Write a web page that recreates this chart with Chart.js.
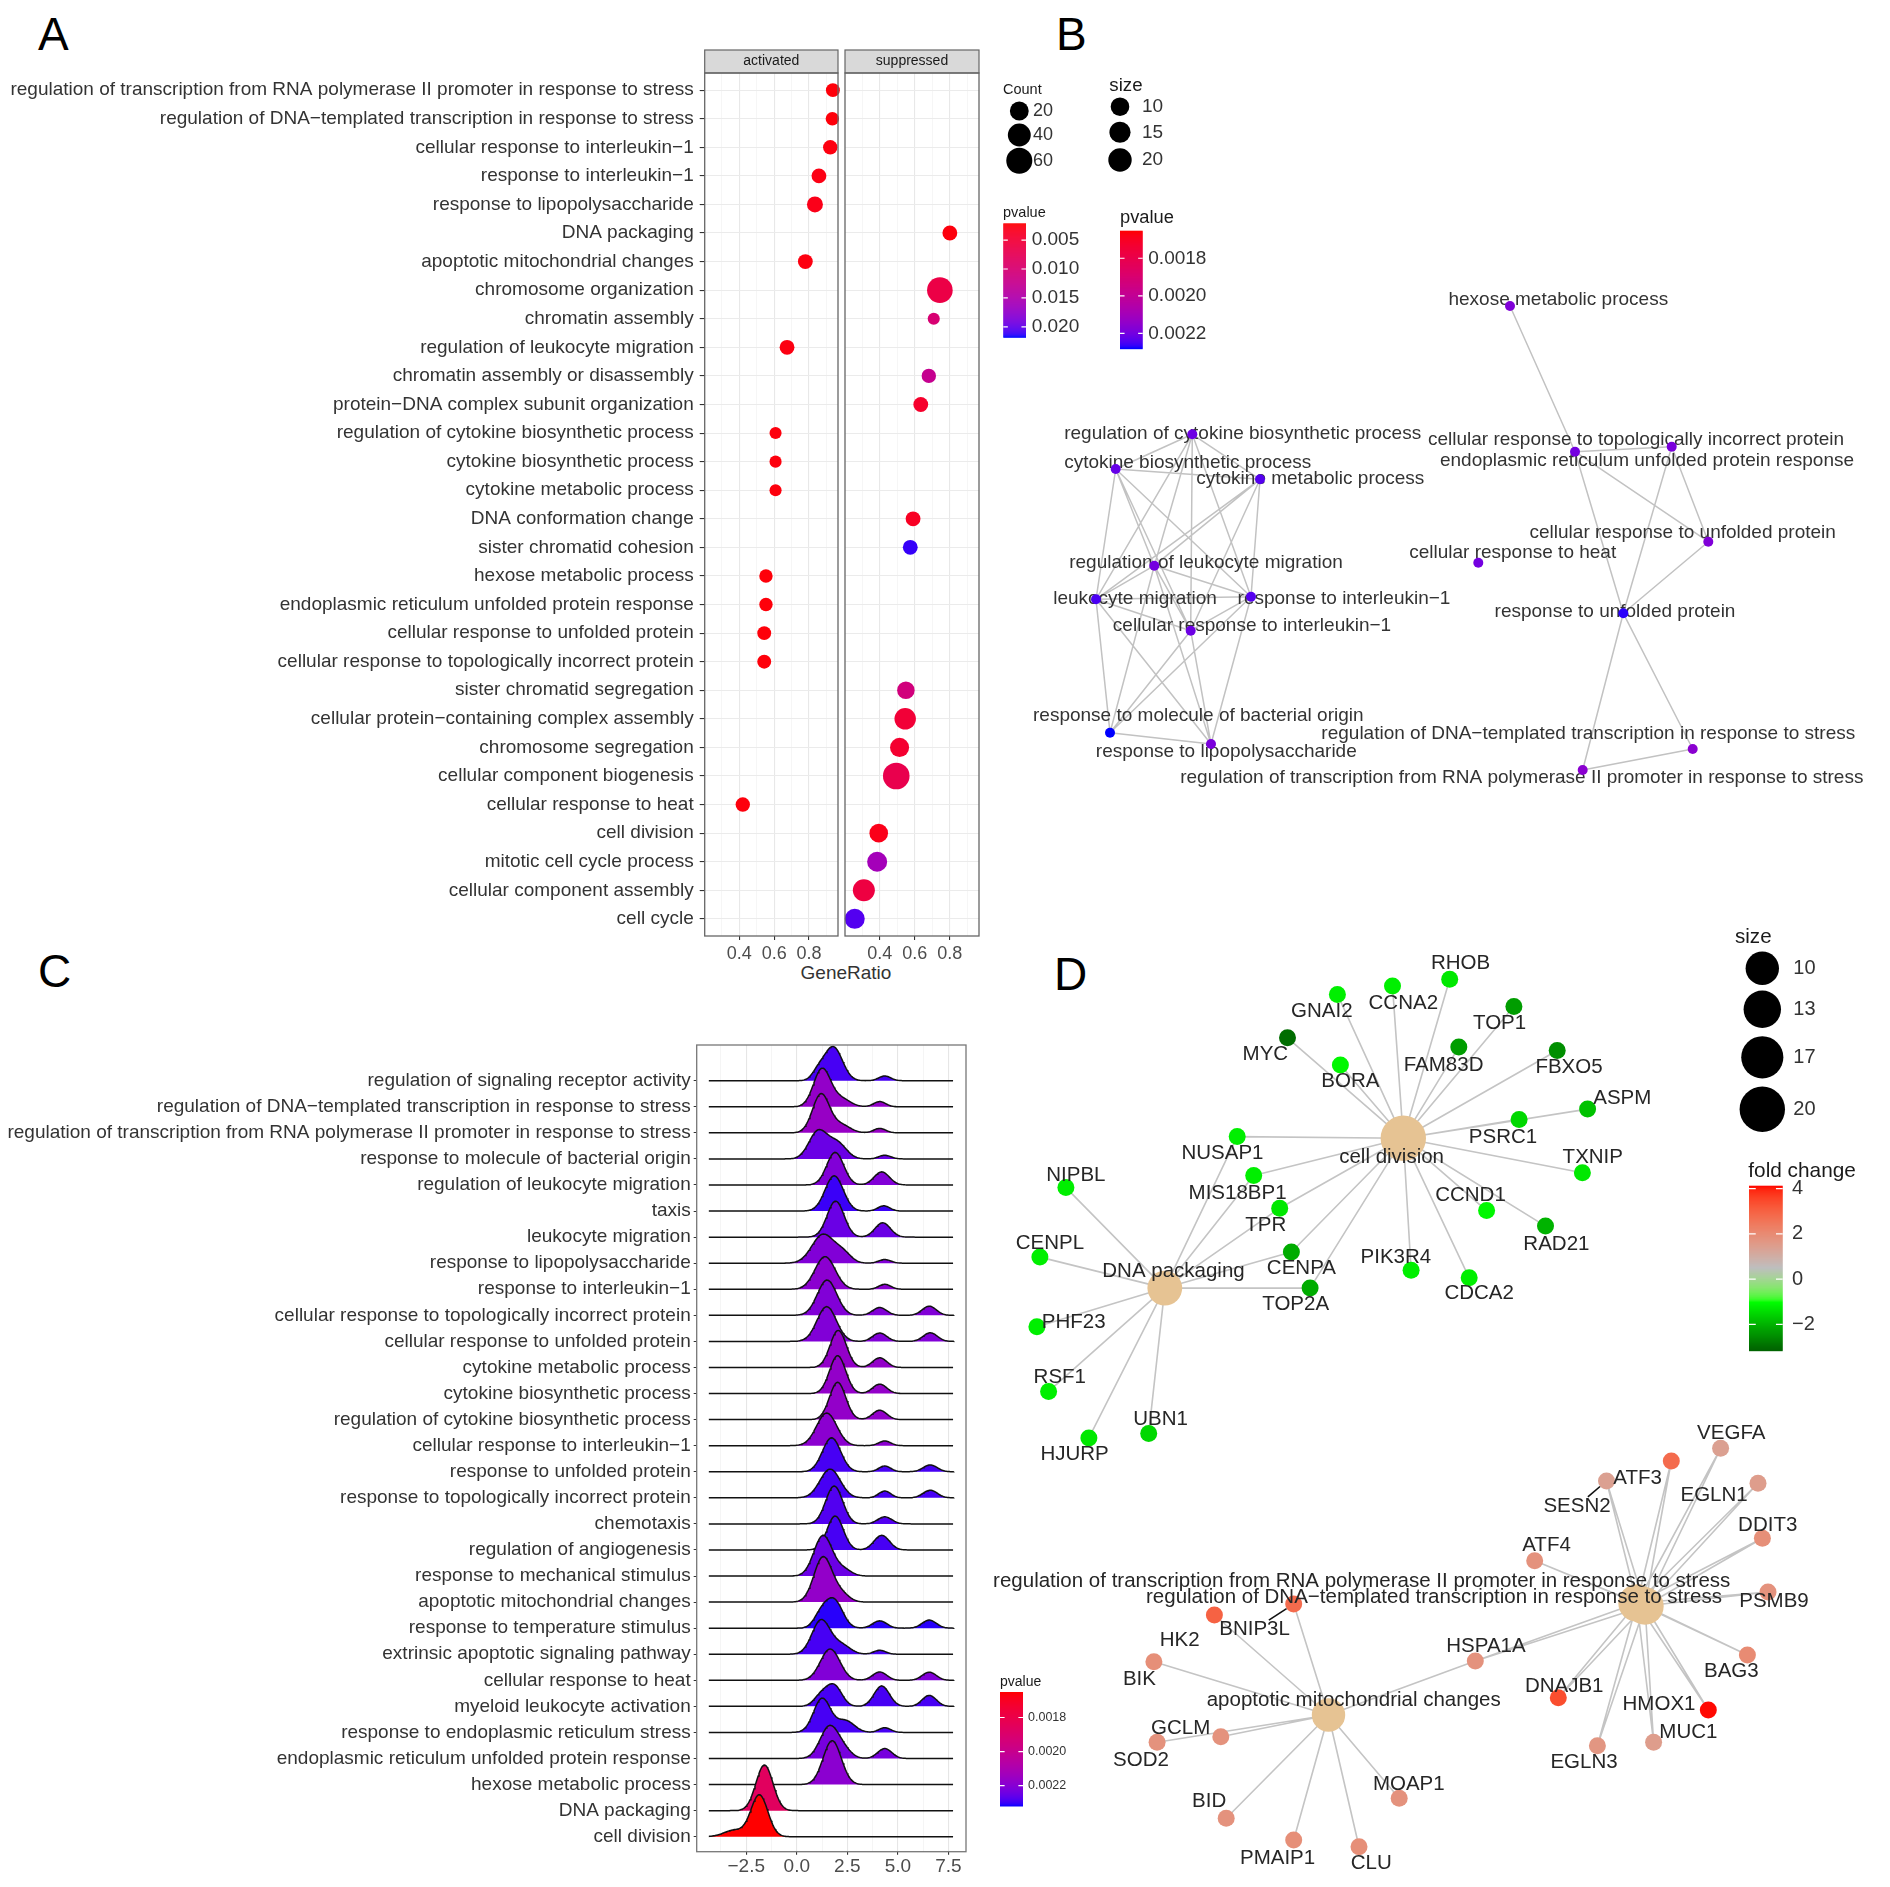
<!DOCTYPE html>
<html>
<head>
<meta charset="utf-8">
<script src="https://cdn.jsdelivr.net/npm/chart.js@4.4.1/dist/chart.umd.min.js"></script>
<style>
  body { margin: 0; background: #fff; width: 1890px; height: 1887px; position: relative; overflow: hidden;
         font-family: "Liberation Sans", Arial, Helvetica, sans-serif; }
  canvas { position: absolute; }
  .tag { position: absolute; font-size: 46px; line-height: 46px; color: #000; }
  .title { position: absolute; font-size: 19px; line-height: 19px; color: #333; transform: translate(-50%, -50%); }
</style>
</head>
<body>
<div class="tag" style="left:38px;top:11px">A</div>
<div class="tag" style="left:1056px;top:11px">B</div>
<div class="tag" style="left:38px;top:948px">C</div>
<div class="tag" style="left:1054px;top:951px">D</div>
<div class="title" style="left:846px;top:972px">GeneRatio</div>

<canvas id="a1" width="845" height="950" style="left:0;top:40px"></canvas>
<canvas id="a2" width="270" height="950" style="left:840px;top:40px"></canvas>
<canvas id="b" width="860" height="740" style="left:1030px;top:60px"></canvas>
<canvas id="c" width="1100" height="857" style="left:0;top:1030px"></canvas>
<canvas id="d" width="930" height="967" style="left:960px;top:920px"></canvas>

<script>
// ---------- panel A: dot plot, two facets ----------
const aTerms = [
  'regulation of transcription from RNA polymerase II promoter in response to stress',
  'regulation of DNA−templated transcription in response to stress',
  'cellular response to interleukin−1',
  'response to interleukin−1',
  'response to lipopolysaccharide',
  'DNA packaging',
  'apoptotic mitochondrial changes',
  'chromosome organization',
  'chromatin assembly',
  'regulation of leukocyte migration',
  'chromatin assembly or disassembly',
  'protein−DNA complex subunit organization',
  'regulation of cytokine biosynthetic process',
  'cytokine biosynthetic process',
  'cytokine metabolic process',
  'DNA conformation change',
  'sister chromatid cohesion',
  'hexose metabolic process',
  'endoplasmic reticulum unfolded protein response',
  'cellular response to unfolded protein',
  'cellular response to topologically incorrect protein',
  'sister chromatid segregation',
  'cellular protein−containing complex assembly',
  'chromosome segregation',
  'cellular component biogenesis',
  'cellular response to heat',
  'cell division',
  'mitotic cell cycle process',
  'cellular component assembly',
  'cell cycle'
];
const aGroup = ['activated','activated','activated','activated','activated','suppressed','activated','suppressed',
  'suppressed','activated','suppressed','suppressed','activated','activated','activated','suppressed','suppressed',
  'activated','activated','activated','activated','suppressed','suppressed','suppressed','suppressed','activated',
  'suppressed','suppressed','suppressed','suppressed'];
const aRatio = [0.937, 0.934, 0.922, 0.857, 0.834, 0.800, 0.779, 0.743, 0.708, 0.674, 0.680, 0.634, 0.608, 0.608,
  0.608, 0.590, 0.574, 0.553, 0.553, 0.543, 0.543, 0.549, 0.545, 0.513, 0.494, 0.420, 0.394, 0.385, 0.309, 0.257];
const aCount = [5, 4, 6, 7, 10, 7, 7, 57, 2, 7, 6, 7, 2, 2, 2, 7, 7, 4, 4, 5, 5, 15, 32, 21, 64, 6, 19, 25, 35, 25];
const aP = [0.0024, 0.0024, 0.0026, 0.0028, 0.0030, 0.0025, 0.0026, 0.0062, 0.0100, 0.0027, 0.0125, 0.0042, 0.0025,
  0.0025, 0.0025, 0.0036, 0.0212, 0.0024, 0.0024, 0.0024, 0.0024, 0.0108, 0.0050, 0.0045, 0.0068, 0.0025, 0.0030,
  0.0160, 0.0058, 0.0205];
const aRatioTicks = [0.3, 0.4, 0.5, 0.6, 0.7, 0.8, 0.9];
const aCountBreaks = [20, 40, 60];
const aPBreaks = [0.005, 0.010, 0.015, 0.020];

// ---------- panel B: enrichment map ----------
const bTerms = [
  'regulation of cytokine biosynthetic process', 'cytokine biosynthetic process', 'cytokine metabolic process',
  'regulation of leukocyte migration', 'leukocyte migration', 'response to interleukin−1',
  'cellular response to interleukin−1', 'response to molecule of bacterial origin', 'response to lipopolysaccharide',
  'hexose metabolic process', 'cellular response to topologically incorrect protein',
  'endoplasmic reticulum unfolded protein response', 'cellular response to unfolded protein',
  'cellular response to heat', 'response to unfolded protein',
  'regulation of DNA−templated transcription in response to stress',
  'regulation of transcription from RNA polymerase II promoter in response to stress'
];
const bNodeX = [16.23, 8.57, 23.0, 12.43, 6.6, 22.1, 16.07, 8.0, 18.1, 48.0, 54.5, 64.17, 67.83, 44.83, 59.33, 66.27, 55.27];
const bNodeY = [37.43, 40.9, 41.93, 50.57, 53.93, 53.67, 57.07, 67.27, 68.4, 24.6, 39.17, 38.67, 48.17, 50.27, 55.33, 68.9, 71.0];
const bLabelX = [21.27, 15.77, 28.03, 17.6, 10.5, 31.4, 22.2, 16.83, 19.63, 52.83, 60.6, 61.7, 65.27, 48.27, 58.5, 55.83, 49.18];
const bLabelY = [37.33, 40.27, 41.9, 50.27, 53.83, 53.83, 56.6, 65.6, 69.17, 23.93, 38.0, 40.07, 47.23, 49.27, 55.17, 67.33, 71.73];
const bP = [0.00221, 0.00222, 0.00224, 0.00220, 0.00225, 0.00224, 0.00221, 0.00228, 0.00219, 0.00218, 0.00220,
  0.00219, 0.00218, 0.00220, 0.00227, 0.00216, 0.00216];
const bEdges = [[0,1],[0,2],[1,2],[0,3],[0,4],[0,5],[0,6],[1,3],[1,4],[1,5],[1,6],[2,3],[2,4],[2,5],[2,6],
  [3,4],[3,5],[3,6],[3,7],[3,8],[4,5],[4,6],[4,7],[4,8],[5,6],[5,7],[5,8],[6,7],[6,8],[7,8],
  [9,10],[10,11],[10,12],[10,14],[11,12],[11,14],[12,14],[14,15],[14,16],[15,16]];
const bSizeBreaks = [10, 15, 20];
const bPBreaks = [0.0018, 0.0020, 0.0022];

// ---------- panel C: ridgeline plot ----------
const cTerms = [
  'regulation of signaling receptor activity',
  'regulation of DNA−templated transcription in response to stress',
  'regulation of transcription from RNA polymerase II promoter in response to stress',
  'response to molecule of bacterial origin',
  'regulation of leukocyte migration',
  'taxis',
  'leukocyte migration',
  'response to lipopolysaccharide',
  'response to interleukin−1',
  'cellular response to topologically incorrect protein',
  'cellular response to unfolded protein',
  'cytokine metabolic process',
  'cytokine biosynthetic process',
  'regulation of cytokine biosynthetic process',
  'cellular response to interleukin−1',
  'response to unfolded protein',
  'response to topologically incorrect protein',
  'chemotaxis',
  'regulation of angiogenesis',
  'response to mechanical stimulus',
  'apoptotic mitochondrial changes',
  'response to temperature stimulus',
  'extrinsic apoptotic signaling pathway',
  'cellular response to heat',
  'myeloid leukocyte activation',
  'response to endoplasmic reticulum stress',
  'endoplasmic reticulum unfolded protein response',
  'hexose metabolic process',
  'DNA packaging',
  'cell division'
];
const cP = [0.00229, 0.00217, 0.00216, 0.00225, 0.00221, 0.00230, 0.00225, 0.00221, 0.00219, 0.00221, 0.00221,
  0.00217, 0.00217, 0.00217, 0.00219, 0.00229, 0.00229, 0.00228, 0.00229, 0.00225, 0.00217, 0.00231, 0.00229,
  0.00221, 0.00229, 0.00229, 0.00223, 0.00219, 0.00186, 0.00165];
// density peaks: [fold change centre, height in rows, spread]
const cPeaks = [
  [[1.8,1.3,0.45],[1.05,0.3,0.3],[4.35,0.18,0.3]],
  [[1.25,1.45,0.42],[2.2,0.3,0.45],[4.1,0.2,0.3]],
  [[1.2,1.48,0.42],[2.2,0.3,0.45],[4.1,0.17,0.3]],
  [[1.05,1.05,0.45],[2.0,0.6,0.45],[4.35,0.14,0.3]],
  [[1.9,1.25,0.42],[4.2,0.5,0.38]],
  [[1.85,1.35,0.45],[4.3,0.2,0.3]],
  [[1.92,1.38,0.42],[4.25,0.55,0.38]],
  [[1.3,1.1,0.55],[2.3,0.35,0.4],[4.35,0.14,0.3]],
  [[1.4,1.25,0.5],[4.35,0.19,0.3]],
  [[1.5,1.35,0.48],[4.1,0.3,0.35],[6.55,0.35,0.35]],
  [[1.48,1.33,0.48],[4.1,0.32,0.35],[6.6,0.33,0.35]],
  [[2.05,1.42,0.4],[4.1,0.37,0.35]],
  [[2.02,1.45,0.4],[4.1,0.36,0.35]],
  [[2.02,1.43,0.4],[4.1,0.36,0.35]],
  [[1.48,1.25,0.5],[4.35,0.18,0.3]],
  [[1.72,1.3,0.45],[4.35,0.22,0.3],[6.6,0.26,0.35]],
  [[1.65,1.1,0.5],[4.35,0.26,0.3],[6.6,0.29,0.35]],
  [[1.85,1.45,0.42],[4.35,0.27,0.35]],
  [[1.9,1.3,0.4],[4.2,0.56,0.38]],
  [[1.3,1.55,0.45],[2.3,0.25,0.4]],
  [[1.3,1.72,0.45],[2.2,0.3,0.4]],
  [[1.85,1.05,0.42],[1.2,0.5,0.35],[4.1,0.28,0.35],[6.55,0.31,0.35]],
  [[1.2,1.3,0.45],[2.2,0.35,0.45],[4.1,0.15,0.3]],
  [[1.65,1.2,0.48],[4.1,0.32,0.35],[6.55,0.31,0.35]],
  [[1.85,0.78,0.38],[1.2,0.4,0.35],[4.2,0.78,0.38],[6.55,0.42,0.35]],
  [[1.25,1.3,0.42],[2.4,0.45,0.45],[4.35,0.18,0.3]],
  [[1.6,1.2,0.45],[2.3,0.3,0.4],[4.35,0.38,0.35]],
  [[1.75,1.68,0.45]],
  [[-1.6,1.75,0.42]],
  [[-1.85,1.6,0.42],[-3.1,0.25,0.5]]
];
const cXTicks = [-3.75, -2.5, -1.25, 0, 1.25, 2.5, 3.75, 5, 6.25, 7.5];
const cPBreaks = [0.0018, 0.0020, 0.0022];

// ---------- panel D: gene-concept network ----------
const dHubs = ['cell division', 'DNA packaging',
  'regulation of transcription from RNA polymerase II promoter in response to stress',
  'regulation of DNA−templated transcription in response to stress', 'apoptotic mitochondrial changes'];
const dHubX = [40.33, 16.48, 63.7, 64.5, 32.85];
const dHubY = [19.83, 34.81, 66.3, 66.6, 77.5];
const dHubLabelX = [39.16, 17.35, 36.17, 43.4, 35.37];
const dHubLabelY = [21.73, 33.16, 64.17, 65.77, 76.0];
const dCellDivision = ['RHOB','CCNA2','GNAI2','TOP1','MYC','FAM83D','FBXO5','BORA','ASPM','PSRC1','NUSAP1','TXNIP',
  'MIS18BP1','CCND1','TPR','RAD21','CENPA','PIK3R4','TOP2A','CDCA2'];
const dDnaPackaging = ['NIPBL','CENPL','PHF23','RSF1','HJURP','UBN1','NUSAP1','MIS18BP1','TPR','CENPA','TOP2A'];
const dStress = ['VEGFA','ATF3','SESN2','EGLN1','DDIT3','ATF4','PSMB9','BAG3','HMOX1','MUC1','EGLN3','DNAJB1','HSPA1A'];
const dApoptotic = ['BNIP3L','HK2','BIK','GCLM','SOD2','BID','PMAIP1','CLU','MOAP1','HSPA1A'];
const dGenes = ['RHOB','CCNA2','GNAI2','TOP1','MYC','FAM83D','FBXO5','BORA','ASPM','PSRC1','NUSAP1','TXNIP','MIS18BP1',
  'NIPBL','CCND1','TPR','RAD21','CENPL','CENPA','PIK3R4','TOP2A','CDCA2','PHF23','RSF1','UBN1','HJURP',
  'VEGFA','ATF3','SESN2','EGLN1','DDIT3','ATF4','PSMB9','BNIP3L','HK2','HSPA1A','BIK','BAG3','DNAJB1','HMOX1',
  'GCLM','SOD2','MUC1','EGLN3','MOAP1','BID','PMAIP1','CLU'];
const dGeneX = [44.97, 39.25, 33.74, 51.39, 28.75, 45.88, 55.72, 34.04, 58.76, 51.91, 23.72, 58.24, 25.37, 6.59, 48.66,
  27.97, 54.55, 3.99, 29.14, 41.11, 31.01, 46.92, 3.69, 4.86, 14.87, 8.89,
  72.06, 67.13, 60.65, 75.8, 76.24, 53.47, 76.8, 29.37, 21.44, 47.53, 15.39, 74.74, 55.83, 70.83,
  22.08, 15.71, 65.36, 59.74, 39.92, 22.62, 29.37, 35.9];
const dGeneY = [3.92, 4.61, 5.44, 6.64, 9.78, 10.71, 11.05, 12.5, 16.91, 17.94, 19.66, 23.28, 23.55, 24.76, 27.06,
  26.82, 28.61, 31.71, 31.2, 33.02, 34.81, 33.78, 38.67, 45.14, 49.34, 49.79,
  50.83, 52.1, 54.1, 54.33, 59.83, 62.07, 65.2, 66.4, 67.5, 72.1, 72.17, 71.5, 75.77, 77.0,
  79.67, 80.23, 80.23, 80.57, 85.83, 87.83, 90.0, 90.67];
const dFold = [-1.3, -1.2, -1.2, -2.3, -3.0, -2.3, -2.5, -1.1, -1.8, -1.5, -1.2, -1.3, -1.2, -1.2, -1.1,
  -1.3, -2.0, -1.2, -2.1, -1.2, -2.1, -1.2, -1.2, -1.2, -1.5, -1.3,
  1.4, 2.8, 1.4, 1.5, 1.9, 1.8, 1.8, 2.8, 3.0, 1.8, 1.9, 2.0, 3.4, 4.1,
  1.8, 1.8, 1.5, 1.7, 1.8, 1.8, 1.9, 1.9];
const dLabelX = [46.05, 40.33, 32.18, 49.96, 26.54, 44.36, 56.9, 35.04, 62.23, 50.3, 22.25, 59.28, 23.76, 7.59, 47.05,
  26.58, 55.64, 4.99, 30.14, 39.59, 29.57, 47.92, 7.37, 5.98, 16.05, 7.46,
  73.13, 63.76, 57.7, 71.41, 76.77, 54.65, 77.4, 25.46, 17.96, 48.6, 13.94, 73.13, 56.42, 65.9,
  18.07, 14.1, 68.84, 58.4, 40.88, 20.91, 27.76, 37.13];
const dLabelY = [2.34, 6.33, 7.16, 8.37, 11.47, 12.5, 12.77, 14.15, 15.8, 19.76, 21.38, 21.73, 25.34, 23.55, 25.58,
  28.55, 30.4, 30.34, 32.82, 31.71, 36.47, 35.33, 38.19, 43.7, 47.97, 51.41,
  49.33, 53.83, 56.6, 55.5, 58.5, 60.57, 66.1, 68.93, 70.07, 70.67, 73.93, 73.17, 74.6, 76.4,
  78.83, 82.0, 79.27, 82.27, 84.43, 86.17, 91.83, 92.33];
const dLeaderGenes = ['SESN2', 'BNIP3L'];
const dSizeBreaks = [10, 13, 17, 20];
const dFoldBreaks = [4, 2, 0, -2];

// ---------- helpers ----------
const FONT = '"Liberation Sans", Arial, Helvetica, sans-serif';
Chart.defaults.font.family = FONT;
Chart.defaults.color = '#333';
Chart.defaults.animation = false;
Chart.defaults.responsive = false;
Chart.defaults.devicePixelRatio = 1;
Chart.defaults.layout.autoPadding = false;
Chart.defaults.plugins.legend.display = false;
Chart.defaults.plugins.tooltip.enabled = false;

function hex2rgb(h) { const n = parseInt(h.slice(1), 16); return [(n >> 16) & 255, (n >> 8) & 255, n & 255]; }
function lin(c) { c /= 255; return c <= 0.04045 ? c / 12.92 : Math.pow((c + 0.055) / 1.055, 2.4); }
function gam(c) { c = c <= 0.0031308 ? 12.92 * c : 1.055 * Math.pow(c, 1 / 2.4) - 0.055; return Math.round(Math.max(0, Math.min(1, c)) * 255); }
function toLab(rgb) {
  const [r, g, b] = rgb.map(lin);
  const x = (0.4124 * r + 0.3576 * g + 0.1805 * b) / 0.95047, y = 0.2126 * r + 0.7152 * g + 0.0722 * b,
        z = (0.0193 * r + 0.1192 * g + 0.9505 * b) / 1.08883;
  const f = t => t > 0.008856 ? Math.cbrt(t) : 7.787 * t + 16 / 116;
  return [116 * f(y) - 16, 500 * (f(x) - f(y)), 200 * (f(y) - f(z))];
}
function fromLab([L, a, bb]) {
  const fy = (L + 16) / 116, fx = fy + a / 500, fz = fy - bb / 200;
  const fi = t => t * t * t > 0.008856 ? t * t * t : (t - 16 / 116) / 7.787;
  const x = fi(fx) * 0.95047, y = fi(fy), z = fi(fz) * 1.08883;
  return 'rgb(' + gam(3.2406 * x - 1.5372 * y - 0.4986 * z) + ',' + gam(-0.9689 * x + 1.8758 * y + 0.0415 * z) + ','
    + gam(0.0557 * x - 0.2040 * y + 1.0570 * z) + ')';
}
function makeRamp(stops) {
  const labs = stops.map(s => [s[0], toLab(hex2rgb(s[1]))]);
  return v => {
    v = Math.max(labs[0][0], Math.min(labs[labs.length - 1][0], v));
    let i = 0;
    while (i < labs.length - 2 && v > labs[i + 1][0]) i++;
    const [p0, c0] = labs[i], [p1, c1] = labs[i + 1];
    const u = (v - p0) / (p1 - p0);
    return fromLab(c0.map((c, k) => c + (c1[k] - c) * u));
  };
}
const redBlue = makeRamp([[0, '#ff0000'], [1, '#0000ff']]);
const foldColor = makeRamp([[-3.13, '#006400'], [-1.0, '#00ff00'], [0.5, '#bebebe'], [4.13, '#ff0000']]);
const pScale = (lo, hi) => p => redBlue((p - lo) / (hi - lo));
const aColor = pScale(0.0021, 0.0217);
const bColor = pScale(0.001653, 0.00228);
const cColor = pScale(0.00165, 0.00232);
const countRadius = c => 4.5 + 1.1 * Math.sqrt(c);
const bSizeRadius = s => Math.sqrt(36 + 5.05 * s);
const hubRadius = s => Math.sqrt(43 + 23.6 * s);
const minus = s => s.replace('-', '−');

function txt(ctx, s, x, y, size, color, align) {
  ctx.font = size + 'px ' + FONT; ctx.fillStyle = color;
  ctx.textAlign = align || 'left'; ctx.textBaseline = 'middle'; ctx.fillText(s, x, y);
}
function colorbar(ctx, x, y, w, h, vTop, vBot, colorOf, breaks, labels, labelX, size) {
  for (let j = 0; j < h; j++) {
    ctx.fillStyle = colorOf(vTop + (vBot - vTop) * (j + 0.5) / h);
    ctx.fillRect(x, y + j, w, 1.5);
  }
  ctx.strokeStyle = '#fff'; ctx.lineWidth = 1.2;
  breaks.forEach((b, k) => {
    const yy = y + (b - vTop) / (vBot - vTop) * h;
    ctx.beginPath(); ctx.moveTo(x, yy); ctx.lineTo(x + w * 0.2, yy);
    ctx.moveTo(x + w * 0.8, yy); ctx.lineTo(x + w, yy); ctx.stroke();
    txt(ctx, labels[k], labelX, yy, size, '#333');
  });
}
const frame = color => ({ id: 'frame', afterDraw(chart) {
  const { ctx, chartArea: a } = chart;
  ctx.save(); ctx.strokeStyle = color; ctx.lineWidth = 1.3;
  ctx.strokeRect(a.left, a.top, a.right - a.left, a.bottom - a.top); ctx.restore();
}});
const strip = label => ({ id: 'strip', afterDraw(chart) {
  const { ctx, chartArea: a } = chart;
  ctx.save(); ctx.fillStyle = '#d9d9d9'; ctx.strokeStyle = '#666'; ctx.lineWidth = 1.2;
  ctx.fillRect(a.left, a.top - 23, a.right - a.left, 23);
  ctx.strokeRect(a.left, a.top - 23, a.right - a.left, 23);
  txt(ctx, label, (a.left + a.right) / 2, a.top - 11.5, 14, '#1a1a1a', 'center'); ctx.restore();
}});

// ---------- A charts ----------
const isMajorA = v => Math.round(v * 10) % 2 === 0;
function aDataset(group) {
  const idx = aTerms.map((_, i) => i).filter(i => aGroup[i] === group);
  return {
    data: idx.map(i => ({ x: aRatio[i], y: i })),
    pointRadius: idx.map(i => countRadius(aCount[i])),
    pointBackgroundColor: idx.map(i => aColor(aP[i])),
    pointBorderWidth: 0, clip: false
  };
}
function aOptions(showLabels, padding) {
  return {
    layout: { padding },
    scales: {
      x: {
        type: 'linear', min: 0.2014, max: 0.9664,
        afterBuildTicks: ax => { ax.ticks = aRatioTicks.map(v => ({ value: v })); },
        afterFit: ax => { ax.height = 54; },
        ticks: { autoSkip: false, maxRotation: 0, padding: 3, font: { size: 18 }, color: '#4d4d4d',
                 callback: v => isMajorA(v) ? v.toFixed(1) : '' },
        grid: { color: c => isMajorA(c.tick.value) ? '#e8e8e8' : '#f2f2f2',
                lineWidth: c => isMajorA(c.tick.value) ? 1.1 : 0.7,
                tickColor: c => isMajorA(c.tick.value) ? '#333' : 'rgba(0,0,0,0)', tickLength: 4 },
        border: { display: false }
      },
      y: {
        type: 'linear', reverse: true, min: -0.6, max: aTerms.length - 0.4,
        afterBuildTicks: ax => { ax.ticks = aTerms.map((_, i) => ({ value: i })); },
        afterFit: ax => { ax.width = showLabels ? 704.7 : 0; },
        ticks: { display: showLabels, autoSkip: false, padding: 6, font: { size: 19 }, color: '#333',
                 callback: v => aTerms[v] },
        grid: { color: '#ebebeb', lineWidth: 1.1, tickColor: '#333', tickLength: 5, drawTicks: showLabels },
        border: { display: false }
      }
    }
  };
}
new Chart(document.getElementById('a1'), {
  type: 'scatter',
  data: { datasets: [aDataset('activated')] },
  options: aOptions(true, { top: 33, right: 7, left: 0, bottom: 0 }),
  plugins: [strip('activated'), frame('#666')]
});
const aLegend = { id: 'aLegend', afterDraw(chart) {
  const ctx = chart.ctx; ctx.save(); ctx.translate(-840, -40);
  txt(ctx, 'Count', 1003, 90, 14.5, '#1a1a1a');
  const cy = [111, 135, 160.7];
  aCountBreaks.forEach((c, k) => {
    ctx.beginPath(); ctx.arc(1019.3, cy[k], countRadius(c), 0, Math.PI * 2); ctx.fillStyle = '#000'; ctx.fill();
    txt(ctx, String(c), 1033, cy[k], 18, '#333');
  });
  txt(ctx, 'pvalue', 1003, 212.7, 14.5, '#1a1a1a');
  colorbar(ctx, 1003.3, 223.3, 22.7, 113.4, 0.0021, 0.0217, aColor, aPBreaks,
           aPBreaks.map(v => v.toFixed(3)), 1031.7, 19);
  ctx.restore();
}};
new Chart(document.getElementById('a2'), {
  type: 'scatter',
  data: { datasets: [aDataset('suppressed')] },
  options: aOptions(false, { top: 33, right: 131, left: 5, bottom: 0 }),
  plugins: [strip('suppressed'), frame('#666'), aLegend]
});

// ---------- B chart ----------
const bEdgePts = [];
bEdges.forEach(([i, j]) => {
  bEdgePts.push({ x: bNodeX[i], y: bNodeY[i] }, { x: bNodeX[j], y: bNodeY[j] }, { x: bNodeX[j], y: null });
});
const bLabels = { id: 'bLabels', afterDatasetDraw(chart, args) {
  if (args.index !== 1) return;
  const { ctx, scales: { x, y } } = chart;
  bTerms.forEach((t, i) => txt(ctx, t, x.getPixelForValue(bLabelX[i]), y.getPixelForValue(bLabelY[i]), 19, '#333', 'center'));
}};
const bLegend = { id: 'bLegend', afterDraw(chart) {
  const ctx = chart.ctx; ctx.save(); ctx.translate(-1030, -60);
  txt(ctx, 'size', 1109.3, 85.7, 18.7, '#1a1a1a');
  const cy = [106.7, 132.3, 160];
  bSizeBreaks.forEach((s, k) => {
    ctx.beginPath(); ctx.arc(1120, cy[k], bSizeRadius(s), 0, Math.PI * 2); ctx.fillStyle = '#000'; ctx.fill();
    txt(ctx, String(s), 1142, cy[k], 19, '#333');
  });
  txt(ctx, 'pvalue', 1120, 218, 18.3, '#1a1a1a');
  colorbar(ctx, 1120, 230.7, 22.7, 117.6, 0.001653, 0.00228, bColor, bPBreaks,
           bPBreaks.map(v => v.toFixed(4)), 1148.3, 19);
  ctx.restore();
}};
new Chart(document.getElementById('b'), {
  type: 'scatter',
  data: { datasets: [
    { data: bTerms.map((_, i) => ({ x: bNodeX[i], y: bNodeY[i] })), pointRadius: 5,
      pointBackgroundColor: bP.map(bColor), pointBorderWidth: 0, clip: false },
    { type: 'line', data: bEdgePts, borderColor: '#c2c2c2', borderWidth: 1.5, pointRadius: 0,
      spanGaps: false, fill: false, clip: false }
  ]},
  options: { layout: { padding: 0 },
    scales: { x: { type: 'linear', display: false, min: 0, max: 86 },
              y: { type: 'linear', display: false, min: 0, max: 74, reverse: true } } },
  plugins: [bLabels, bLegend]
});

// ---------- C chart ----------
const cGrid = [];
for (let k = 0; k <= 303; k++) cGrid.push(-4.35 + k * 0.04);
const nC = cTerms.length;
const cDatasets = cTerms.map((t, i) => {
  const base = nC - 1 - i;
  return {
    data: cGrid.map(x => ({ x, y: base + cPeaks[i].reduce((s, [m, h, sd]) => s + h * Math.exp(-0.5 * ((x - m) / sd) ** 2), 0) })),
    fill: { value: base }, backgroundColor: cColor(cP[i]),
    borderColor: '#111', borderWidth: 1.5, pointRadius: 0, tension: 0, order: base
  };
});
const isMajorC = v => Math.abs(v / 2.5 - Math.round(v / 2.5)) < 1e-6;
const cLegend = { id: 'cLegend', afterDraw(chart) {
  const ctx = chart.ctx; ctx.save(); ctx.translate(0, -1030);
  txt(ctx, 'pvalue', 1000, 1682, 14, '#1a1a1a');
  colorbar(ctx, 1000, 1692, 23, 114, 0.00165, 0.00232, cColor, cPBreaks, cPBreaks.map(v => v.toFixed(4)), 1028, 12.5);
  ctx.restore();
}};
new Chart(document.getElementById('c'), {
  type: 'line',
  data: { datasets: cDatasets },
  options: {
    layout: { padding: { top: 15, right: 134, left: 0, bottom: 0 } },
    scales: {
      x: {
        type: 'linear', min: -4.95, max: 8.37,
        afterBuildTicks: ax => { ax.ticks = cXTicks.map(v => ({ value: v })); },
        afterFit: ax => { ax.height = 35.3; },
        ticks: { autoSkip: false, maxRotation: 0, padding: 1, font: { size: 19 }, color: '#4d4d4d',
                 callback: v => isMajorC(v) ? minus(v.toFixed(1)) : '' },
        grid: { color: c => isMajorC(c.tick.value) ? '#e6e6e6' : '#f1f1f1',
                lineWidth: c => isMajorC(c.tick.value) ? 1.1 : 0.7,
                tickColor: c => isMajorC(c.tick.value) ? '#333' : 'rgba(0,0,0,0)', tickLength: 3 },
        border: { display: false }
      },
      y: {
        type: 'linear', min: -0.575, max: nC - 1 + 1.37,
        afterBuildTicks: ax => { ax.ticks = cTerms.map((_, i) => ({ value: i })); },
        afterFit: ax => { ax.width = 696.7; },
        ticks: { autoSkip: false, padding: 3, font: { size: 19 }, color: '#333', callback: v => cTerms[nC - 1 - v] },
        grid: { drawOnChartArea: false, tickColor: '#333', tickLength: 3 },
        border: { display: false }
      }
    }
  },
  plugins: [frame('#777'), cLegend]
});

// ---------- D chart ----------
const dHubGenes = [dCellDivision, dDnaPackaging, dStress, dStress, dApoptotic];
const dEdgePts = [];
dHubGenes.forEach((genes, h) => genes.forEach(g => {
  const k = dGenes.indexOf(g);
  dEdgePts.push({ x: dHubX[h], y: dHubY[h] }, { x: dGeneX[k], y: dGeneY[k] }, { x: dGeneX[k], y: null });
}));
const D_FONT = 20.5;
const dLabels = { id: 'dLabels', afterDatasetsDraw(chart) {
  const { ctx, scales: { x, y } } = chart;
  // short leader lines from repelled labels back to their nodes
  ctx.save(); ctx.font = D_FONT + 'px ' + FONT; ctx.strokeStyle = '#111'; ctx.lineWidth = 1.6;
  dLeaderGenes.forEach(g => {
    const k = dGenes.indexOf(g);
    const lx = x.getPixelForValue(dLabelX[k]), ly = y.getPixelForValue(dLabelY[k]);
    const nx = x.getPixelForValue(dGeneX[k]), ny = y.getPixelForValue(dGeneY[k]);
    const hw = ctx.measureText(g).width / 2 + 1, hh = D_FONT * 0.45;
    const dx = nx - lx, dy = ny - ly;
    const s = Math.min(hw / Math.abs(dx || 1e-6), hh / Math.abs(dy || 1e-6));
    const len = Math.hypot(dx, dy);
    ctx.beginPath(); ctx.moveTo(lx + dx * s, ly + dy * s);
    ctx.lineTo(nx - dx / len * 8.5, ny - dy / len * 8.5); ctx.stroke();
  });
  ctx.restore();
  dGenes.forEach((g, i) => txt(ctx, g, x.getPixelForValue(dLabelX[i]), y.getPixelForValue(dLabelY[i]), D_FONT, '#262626', 'center'));
  dHubs.forEach((h, i) => txt(ctx, h, x.getPixelForValue(dHubLabelX[i]), y.getPixelForValue(dHubLabelY[i]), D_FONT, '#262626', 'center'));
}};
const dLegend = { id: 'dLegend', afterDraw(chart) {
  const ctx = chart.ctx; ctx.save(); ctx.translate(-960, -920);
  txt(ctx, 'size', 1735, 937, 20.6, '#1a1a1a');
  const cy = [968.3, 1009.3, 1057.3, 1109.3];
  dSizeBreaks.forEach((s, k) => {
    ctx.beginPath(); ctx.arc(1762.3, cy[k], hubRadius(s), 0, Math.PI * 2); ctx.fillStyle = '#000'; ctx.fill();
    txt(ctx, String(s), 1793.3, cy[k], 20, '#333');
  });
  txt(ctx, 'fold change', 1748.3, 1171.7, 20.8, '#1a1a1a');
  colorbar(ctx, 1749, 1185.7, 33.7, 164.3, 4.13, -3.13, foldColor, dFoldBreaks, dFoldBreaks.map(v => minus(String(v))), 1792, 20);
  ctx.restore();
}};
new Chart(document.getElementById('d'), {
  type: 'scatter',
  data: { datasets: [
    { data: dHubs.map((_, i) => ({ x: dHubX[i], y: dHubY[i] })), pointRadius: dHubGenes.map(g => hubRadius(g.length)),
      pointBackgroundColor: '#e6c393', pointBorderWidth: 0, clip: false },
    { data: dGenes.map((_, i) => ({ x: dGeneX[i], y: dGeneY[i] })), pointRadius: 8.5,
      pointBackgroundColor: dFold.map(foldColor), pointBorderWidth: 0, clip: false },
    { type: 'line', data: dEdgePts, borderColor: '#c4c4c4', borderWidth: 1.6, pointRadius: 0,
      spanGaps: false, fill: false, clip: false }
  ]},
  options: { layout: { padding: 0 },
    scales: { x: { type: 'linear', display: false, min: -4, max: 89 },
              y: { type: 'linear', display: false, min: -2, max: 94.7, reverse: true } } },
  plugins: [dLabels, dLegend]
});
</script>
</body>
</html>
